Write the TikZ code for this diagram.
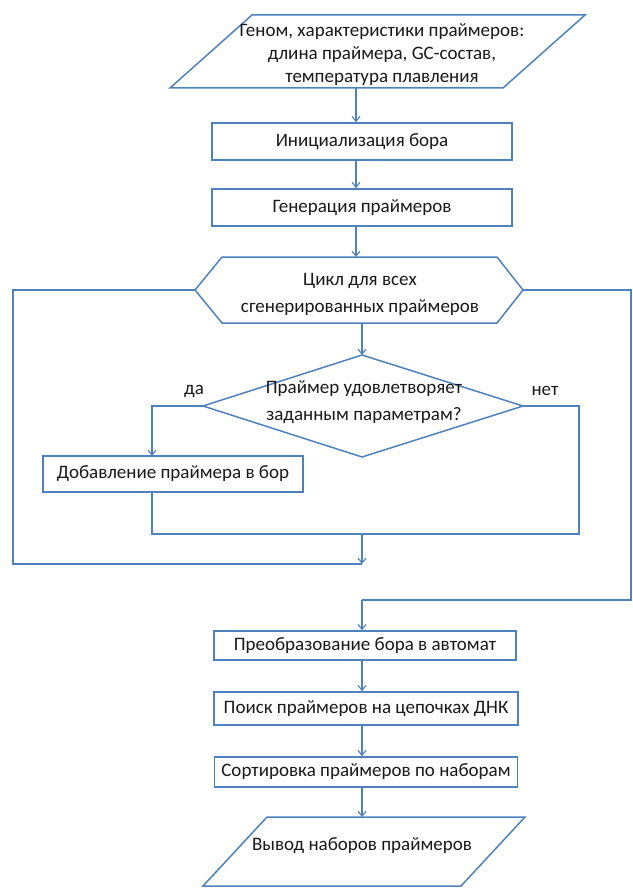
\documentclass[tikz,border=0pt]{standalone}
\usepackage{fontspec}
\setmainfont{Carlito}
\usetikzlibrary{arrows.meta}
\definecolor{ln}{RGB}{79,129,189}
\definecolor{tx}{RGB}{25,25,25}
\begin{document}
\begin{tikzpicture}[x=1pt,y=-1pt,
  shp/.style={draw=ln, line width=1.5pt, fill=white, line join=miter},
  con/.style={draw=ln, line width=1.1pt},
  arr/.style={con, -{Straight Barb[length=5pt,width=8pt]}},
  lbl/.style={text=tx, font=\fontsize{19}{23}\selectfont, align=center, inner sep=0pt},
  lbltwo/.style={lbl, font=\fontsize{19}{27}\selectfont},
  boxnode/.style={shp, lbl, minimum width=300pt}]
\useasboundingbox (0,0) rectangle (632,888);
% input
\path[shp] (252,15)--(585,15)--(503,88)--(170,88)--cycle;
\node[lbl] (inp) at (382,55) {Геном, характеристики праймеров:\\длина праймера, GC-состав,\\температура плавления};
\coordinate (inpB) at (356,88);
% boxes
\node[boxnode, minimum height=37pt] (init) at (362,141.5) {Инициализация бора};
\node[boxnode, minimum height=37pt] (gen) at (362,207.5) {Генерация праймеров};
\draw[arr] (inpB) -- (inpB |- init.north);
\draw[arr] (inpB |- init.south) -- (inpB |- gen.north);
% loop hexagon
\path[shp] (195,290)--(222,257)--(497,257)--(523,290)--(497,323)--(222,323)--cycle;
\node[lbltwo] (loop) at (360,294) {Цикл для всех\\сгенерированных праймеров};
\coordinate (loopL) at (195,290);
\coordinate (loopR) at (523,290);
\coordinate (loopT) at (356,257);
\coordinate (loopB) at (362,323);
\draw[arr] (inpB |- gen.south) -- (loopT);
% decision
\path[shp] (362,355)--(523,406)--(362,457)--(203,406)--cycle;
\node[lbltwo] (cond) at (364,402) {Праймер удовлетворяет\\заданным параметрам?};
\coordinate (condT) at (362,355);
\coordinate (condL) at (203,406);
\coordinate (condR) at (523,406);
\draw[arr] (loopB) -- (condT);
\node[lbl] (yes) at (194,391) {да};
\node[lbl] (no) at (545,391) {нет};
% add box
\node[shp, lbl, minimum width=260pt, minimum height=36pt] (add) at (173,474) {Добавление праймера в бор};
\coordinate (addIn) at (152,456);
\draw[arr] (condL) -- (condL -| addIn) -- (addIn);
\coordinate (merge) at (362,534);
\coordinate (noC) at (579,534);
\draw[con] (addIn |- add.south) -- (addIn |- merge) -- (noC) -- (noC |- condR) -- (condR);
\coordinate (loopRet) at (362,564);
\draw[arr] (merge) -- (loopRet);
\draw[con] (loopRet) -- (13,564) -- (13,290) -- (loopL);
% exit
\coordinate (exitC) at (362,600);
\draw[con] (loopR) -- (631,290) -- (631,600) -- (exitC);
\node[boxnode, minimum width=302pt, minimum height=29pt] (conv) at (365,645.5) {Преобразование бора в автомат};
\node[boxnode, minimum width=304pt, minimum height=33pt] (find) at (366,708.5) {Поиск праймеров на цепочках ДНК};
\node[boxnode, minimum width=303pt, minimum height=30pt] (sort) at (366,772) {Сортировка праймеров по наборам};
\draw[arr] (exitC) -- (exitC |- conv.north);
\draw[arr] (exitC |- conv.south) -- (exitC |- find.north);
\draw[arr] (exitC |- find.south) -- (exitC |- sort.north);
% output
\path[shp] (267,817)--(525,817)--(461,886)--(203,886)--cycle;
\node[lbl] (out) at (362,846) {Вывод наборов праймеров};
\coordinate (outT) at (362,817);
\draw[arr] (exitC |- sort.south) -- (outT);
\end{tikzpicture}
\end{document}
